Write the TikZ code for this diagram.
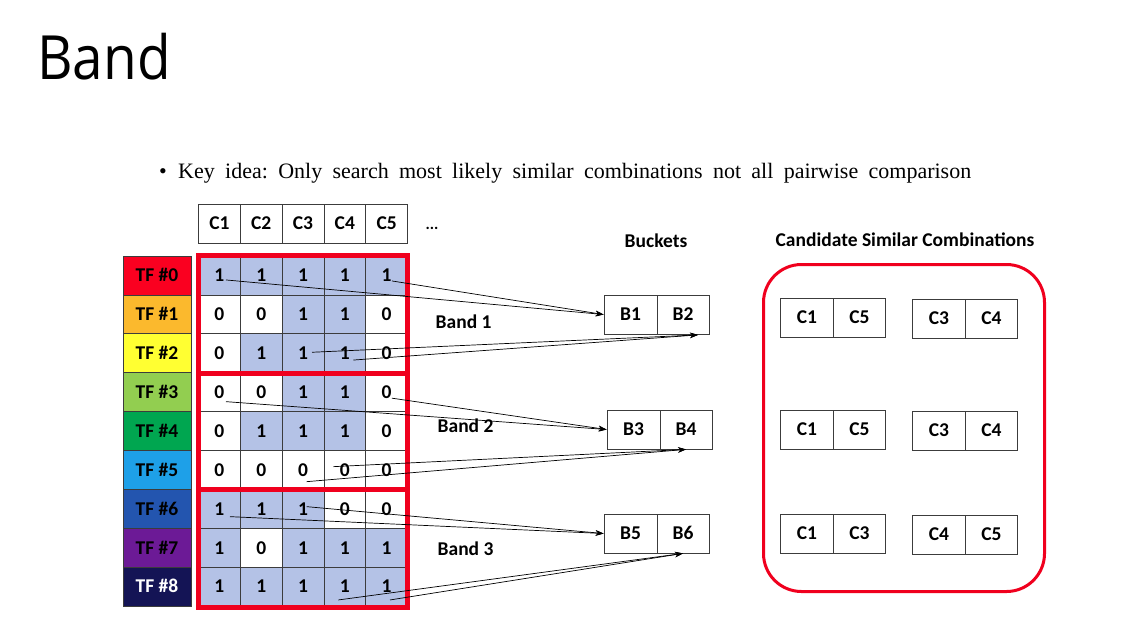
\documentclass[tikz,border=0pt]{standalone}
\usepackage{fontspec}
\setmainfont{Carlito}
\newfontfamily\titlefont{Open Sans}
\newfontfamily\bodyserif{Liberation Serif}
\usetikzlibrary{arrows.meta,calc}
\definecolor{tf0}{RGB}{250,0,32}
\definecolor{tf1}{RGB}{251,185,45}
\definecolor{tf2}{RGB}{255,255,50}
\definecolor{tf3}{RGB}{146,206,80}
\definecolor{tf4}{RGB}{0,166,80}
\definecolor{tf5}{RGB}{30,160,232}
\definecolor{tf6}{RGB}{35,85,175}
\definecolor{tf7}{RGB}{108,26,150}
\definecolor{tf8}{RGB}{20,20,85}
\definecolor{cellblue}{RGB}{180,194,230}
\definecolor{bandred}{RGB}{240,0,30}
\definecolor{gridgray}{RGB}{60,60,60}
\frenchspacing
\begin{document}
\begin{tikzpicture}[x=1pt,y=-1pt,
  lbl/.style={font=\fontsize{19.5}{21}\selectfont\bfseries},
  boxtext/.style={text height=12.6pt, text depth=0pt},
  cellbox/.style={draw=gridgray, line width=0.8pt, minimum width=41.8pt, minimum height=38.9pt, inner sep=0pt, lbl, boxtext},
  v0/.style={fill=white},
  v1/.style={fill=cellblue},
  tfbox/.style={draw=gridgray, line width=0.8pt, minimum width=68pt, minimum height=38.9pt, inner sep=0pt, lbl, boxtext},
  pairbox/.style={draw=gridgray, line width=0.8pt, minimum width=52.5pt, minimum height=39pt, inner sep=0pt, lbl, boxtext},
  bandrect/.style={draw=bandred, line width=4.5pt},
  hasharrow/.style={draw=black, line width=0.7pt, -{Stealth[length=8pt,width=5.5pt]}},
  plainlbl/.style={lbl, inner sep=0pt}]
\useasboundingbox[fill=white] (0,0) rectangle (1132,625);
% title and bullet
\node[anchor=base west, inner sep=0pt, font=\titlefont\fontsize{61}{66}\selectfont] (title) at (37,79) {\scalebox{0.9}[1]{Band}};
\node[anchor=base west, inner sep=0pt, font=\bodyserif\fontsize{22}{24}\selectfont] (bullet) at (159,178) {\textbullet};
\node[anchor=base west, inner sep=0pt, font=\bodyserif\fontsize{22}{24}\selectfont] (keyidea) at (178,178)
  {\makebox[793pt][s]{Key idea: Only search most likely similar combinations not all pairwise comparison}};
% header
\foreach \c in {1,...,5} {
  \node[cellbox] (h\c) at ({198.5+41.8*(\c-0.5)}, 223.5) {C\c};
}
\node[anchor=base, inner sep=0pt, font=\fontsize{16}{17}\selectfont\bfseries] (dots) at (432,229) {...};
% TF labels
\foreach \r/\tc in {0/black,1/black,2/black,3/black,4/black,5/black,6/black,7/black,8/white} {
  \node[tfbox, fill=tf\r, text=\tc] (tf\r) at (157, {256+38.9*(\r+0.5)}) {TF \#\r};
}
% cells
\foreach \r/\vals in {0/{1,1,1,1,1},1/{0,0,1,1,0},2/{0,1,1,1,0},3/{0,0,1,1,0},4/{0,1,1,1,0},5/{0,0,0,0,0},6/{1,1,1,0,0},7/{1,0,1,1,1},8/{1,1,1,1,1}} {
  \foreach \v [count=\c] in \vals {
    \node[cellbox, v\v] (c\r-\c) at ({198.5+41.8*(\c-0.5)}, {256+38.9*(\r+0.5)}) {\v};
  }
}
% bands
\draw[bandrect] (198.3,255.7) rectangle (407.7,373.5);
\draw[bandrect] (198.3,373.5) rectangle (407.7,489.5);
\draw[bandrect] (198.3,489.5) rectangle (407.7,607.5);
\node[plainlbl, anchor=base west] (band1) at (435.5,328.7) {Band 1};
\node[plainlbl, anchor=base west] (band2) at (437.5,432.7) {Band 2};
\node[plainlbl, anchor=base west] (band3) at (437.5,555.7) {Band 3};
% buckets
\node[plainlbl, anchor=base] (buckets) at (656,247.7) {Buckets};
\node[pairbox, minimum width=53pt] (B1) at (630.5,314.5) {B1};
\node[pairbox, minimum width=52pt] (B2) at (683,314.5) {B2};
\node[pairbox, minimum width=53pt] (B3) at (633.5,429.5) {B3};
\node[pairbox, minimum width=52pt] (B4) at (686,429.5) {B4};
\node[pairbox, minimum width=53pt] (B5) at (630.5,533.5) {B5};
\node[pairbox, minimum width=52pt] (B6) at (683,533.5) {B6};
% candidates
\node[plainlbl, anchor=base] (candtitle) at (905,246) {Candidate Similar Combinations};
\draw[draw=bandred, line width=3pt, rounded corners=38pt] (763.5,264.5) rectangle (1044.5,591.5);
\node[pairbox] (p1a) at (807,317.5) {C1};
\node[pairbox] (p1b) at (859.5,317.5) {C5};
\node[pairbox] (p2a) at (939,318.5) {C3};
\node[pairbox] (p2b) at (991.5,318.5) {C4};
\node[pairbox] (p3a) at (807,429.5) {C1};
\node[pairbox] (p3b) at (859.5,429.5) {C5};
\node[pairbox] (p4a) at (939,430.5) {C3};
\node[pairbox] (p4b) at (991.5,430.5) {C4};
\node[pairbox] (p5a) at (807,533.5) {C1};
\node[pairbox] (p5b) at (859.5,533.5) {C3};
\node[pairbox] (p6a) at (939,534.5) {C4};
\node[pairbox] (p6b) at (991.5,534.5) {C5};
% arrow start points
\coordinate (s1) at ($(c0-1)+(6.6,4.5)$);
\coordinate (s2) at ($(c0-5)+(5.4,5.5)$);
\coordinate (s3) at ($(c2-3)+(9,-1)$);
\coordinate (s4) at ($(c2-4)+(8.5,6.8)$);
\coordinate (s5) at ($(c3-1)+(6.6,9.5)$);
\coordinate (s6) at ($(c3-5)+(5.2,6)$);
\coordinate (s7) at ($(c5-4)+(-11.5,-3.3)$);
\coordinate (s8) at ($(c5-3)+(3.7,11.7)$);
\coordinate (s9) at ($(c6-3)+(3.7,-2.2)$);
\coordinate (s10) at ($(c6-1)+(10.6,7.8)$);
\coordinate (s11) at ($(c8-4)+(-6.5,13.3)$);
\coordinate (s12) at ($(c8-5)+(3.4,13.3)$);
\coordinate (e2) at ($(B2.south)+(15,0.5)$);
% arrows
\draw[hasharrow] (s1) -- (B1.west);
\draw[hasharrow] (s2) -- (B1.west);
\draw[hasharrow] (s3) -- (e2);
\draw[hasharrow] (s4) -- (e2);
\draw[hasharrow] (s5) -- (B3.west);
\draw[hasharrow] (s6) -- (B3.west);
\draw[hasharrow] (s7) -- (B4.south);
\draw[hasharrow] (s8) -- (B4.south);
\draw[hasharrow] (s9) -- (B5.west);
\draw[hasharrow] (s10) -- (B5.west);
\draw[hasharrow] (s11) -- (B6.south);
\draw[hasharrow] (s12) -- (B6.south);
\end{tikzpicture}
\end{document}
